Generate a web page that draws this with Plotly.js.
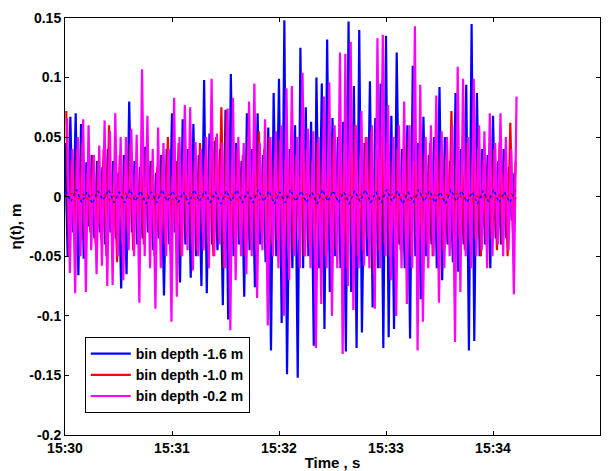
<!DOCTYPE html>
<html><head><meta charset="utf-8">
<script src="https://cdn.plot.ly/plotly-3.0.1.min.js"></script>
<style>body{margin:0;background:#fff}#chart{width:612px;height:471px}</style>
</head><body><div id="chart"></div>
<script>
// Series names
const seriesNames = ["bin depth -1.6 m", "bin depth -1.0 m", "bin depth -0.2 m"];
// Surface elevation crests and troughs (m), one wave every 3 s from 15:30:00
const blueCrests = [0.045,0.067,0.07,0.061,0.029,0.035,0.03,0.025,0.04,0.03,0.02,0.035,0.08,0.03,0.025,0.042,0.03,0.02,0.035,0.04,0.07,0.03,0.065,0.04,0.061,0.035,0.098,0.053,0.047,0.04,0.073,0.103,0.045,0.03,0.07,0.04,0.07,0.035,0.058,0.087,0.099,0.148,0.04,0.06,0.125,0.075,0.063,0.1,0.095,0.132,0.066,0.05,0.063,0.147,0.093,0.14,0.045,0.097,0.066,0.095,0.135,0.068,0.121,0.04,0.06,0.11,0.045,0.067,0.035,0.05,0.092,0.05,0.03,0.087,0.04,0.094,0.145,0.087,0.04,0.035,0.068,0.03,0.04,0.025,0.02];
const blueTroughs = [-0.05,-0.03,-0.066,-0.052,-0.025,-0.035,-0.03,-0.04,-0.03,-0.035,-0.077,-0.065,-0.03,-0.04,-0.035,-0.03,-0.045,-0.035,-0.083,-0.04,-0.03,-0.072,-0.04,-0.068,-0.05,-0.075,-0.081,-0.04,-0.045,-0.091,-0.103,-0.05,-0.04,-0.084,-0.045,-0.076,-0.04,-0.055,-0.129,-0.05,-0.106,-0.149,-0.06,-0.152,-0.06,-0.05,-0.125,-0.06,-0.111,-0.08,-0.05,-0.06,-0.13,-0.08,-0.127,-0.114,-0.05,-0.093,-0.06,-0.127,-0.118,-0.111,-0.04,-0.06,-0.119,-0.05,-0.086,-0.05,-0.04,-0.06,-0.07,-0.04,-0.055,-0.063,-0.04,-0.129,-0.121,-0.05,-0.04,-0.06,-0.035,-0.04,-0.035,-0.02];
const redCrests = [0.072,0.03,0.04,0.045,0.02,0.035,0.03,0.04,0.06,0.025,0.035,0.03,0.045,0.02,0.035,0.04,0.03,0.025,0.035,0.05,0.03,0.045,0.035,0.04,0.03,0.045,0.035,0.04,0.05,0.075,0.073,0.03,0.04,0.035,0.05,0.03,0.055,0.04,0.05,0.035,0.048,0.03,0.04,0.035,0.05,0.04,0.03,0.045,0.04,0.035,0.05,0.03,0.045,0.04,0.06,0.035,0.05,0.055,0.04,0.058,0.045,0.03,0.04,0.035,0.05,0.03,0.04,0.035,0.045,0.03,0.04,0.035,0.072,0.04,0.03,0.045,0.035,0.04,0.03,0.035,0.04,0.045,0.03,0.062,0.03];
const redTroughs = [-0.05,-0.035,-0.03,-0.045,-0.03,-0.04,-0.035,-0.05,-0.03,-0.055,-0.04,-0.03,-0.045,-0.035,-0.04,-0.03,-0.05,-0.035,-0.04,-0.045,-0.03,-0.05,-0.035,-0.04,-0.045,-0.03,-0.04,-0.05,-0.035,-0.06,-0.045,-0.04,-0.035,-0.05,-0.04,-0.045,-0.03,-0.05,-0.04,-0.035,-0.055,-0.04,-0.045,-0.035,-0.05,-0.04,-0.045,-0.035,-0.05,-0.04,-0.045,-0.035,-0.06,-0.04,-0.05,-0.045,-0.035,-0.065,-0.045,-0.04,-0.05,-0.035,-0.045,-0.04,-0.05,-0.035,-0.045,-0.04,-0.05,-0.035,-0.045,-0.04,-0.05,-0.035,-0.045,-0.04,-0.035,-0.05,-0.04,-0.035,-0.045,-0.04,-0.05,-0.03];
const magentaCrests = [0.066,0.04,0.05,0.065,0.06,0.035,0.043,0.064,0.055,0.07,0.05,0.05,0.057,0.052,0.107,0.068,0.04,0.058,0.045,0.04,0.083,0.05,0.077,0.075,0.046,0.04,0.05,0.099,0.053,0.045,0.074,0.083,0.05,0.045,0.08,0.095,0.045,0.065,0.05,0.055,0.06,0.091,0.093,0.05,0.104,0.057,0.055,0.05,0.084,0.096,0.06,0.121,0.12,0.13,0.06,0.072,0.05,0.06,0.133,0.136,0.077,0.05,0.06,0.08,0.06,0.143,0.094,0.05,0.06,0.085,0.055,0.05,0.06,0.109,0.099,0.05,0.099,0.06,0.055,0.07,0.045,0.07,0.05,0.04,0.084];
const magentaTroughs = [-0.064,-0.081,-0.05,-0.08,-0.045,-0.065,-0.058,-0.075,-0.074,-0.05,-0.07,-0.045,-0.05,-0.089,-0.05,-0.06,-0.094,-0.06,-0.05,-0.105,-0.084,-0.05,-0.045,-0.062,-0.05,-0.045,-0.06,-0.05,-0.04,-0.06,-0.112,-0.07,-0.05,-0.065,-0.05,-0.085,-0.045,-0.108,-0.05,-0.06,-0.1,-0.07,-0.05,-0.06,-0.05,-0.06,-0.127,-0.09,-0.06,-0.1,-0.06,-0.132,-0.075,-0.095,-0.06,-0.058,-0.06,-0.094,-0.06,-0.05,-0.07,-0.1,-0.06,-0.09,-0.06,-0.129,-0.105,-0.06,-0.05,-0.089,-0.06,-0.05,-0.122,-0.08,-0.05,-0.06,-0.05,-0.045,-0.06,-0.05,-0.04,-0.05,-0.045,-0.082];
// Small near-zero (dotted) series, one value every 3 s
const blueDot = [0.005,-0.004,0.006,-0.005,0.004,-0.006,0.005,-0.003,0.006,-0.005,0.004,-0.005,0.006,-0.004,0.005,-0.006,0.004,-0.005,0.006,-0.004,0.005,-0.005,0.004,-0.006,0.006,-0.004,0.005,-0.005,0.004,-0.006,0.005,-0.004,0.006,-0.005,0.004,-0.005,0.006,-0.004,0.005,-0.006,0.004,-0.005,0.006,-0.004,0.005,-0.005,0.004,-0.006,0.006,-0.004,0.005,-0.005,0.004,-0.006,0.005,-0.004,0.006,-0.005,0.004,-0.005,0.006,-0.004,0.005,-0.006,0.004,-0.005,0.006,-0.004,0.005,-0.005,0.004,-0.006,0.006,-0.004,0.005,-0.005,0.004,-0.006,0.005,-0.004,0.006,-0.005,0.004,-0.005,0.005];
const redDot = [-0.002,0.003,-0.003,0.002,-0.002,0.003,-0.001,0.002,-0.003,0.002,-0.002,0.003,-0.002,0.001,-0.003,0.002,-0.002,0.003,-0.002,0.002,-0.003,0.001,-0.002,0.003,-0.002,0.002,-0.003,0.002,-0.001,0.003,-0.002,0.002,-0.003,0.002,-0.002,0.001,-0.003,0.002,-0.002,0.003,-0.002,0.002,-0.003,0.001,-0.002,0.003,-0.002,0.002,-0.003,0.002,-0.001,0.003,-0.002,0.002,-0.003,0.002,-0.002,0.001,-0.003,0.002,-0.002,0.003,-0.002,0.002,-0.003,0.001,-0.002,0.003,-0.002,0.002,-0.003,0.002,-0.001,0.003,-0.002,0.002,-0.003,0.002,-0.002,0.001,-0.003,0.002,-0.002,0.003,-0.002];
const magentaDot = [0.003,-0.004,0.004,-0.003,0.002,-0.004,0.003,-0.003,0.004,-0.002,0.003,-0.004,0.004,-0.003,0.002,-0.004,0.003,-0.003,0.004,-0.002,0.003,-0.004,0.004,-0.003,0.002,-0.004,0.003,-0.003,0.004,-0.002,0.003,-0.004,0.004,-0.003,0.002,-0.004,0.003,-0.003,0.004,-0.002,0.003,-0.004,0.004,-0.003,0.002,-0.004,0.003,-0.003,0.004,-0.002,0.003,-0.004,0.004,-0.003,0.002,-0.004,0.003,-0.003,0.004,-0.002,0.003,-0.004,0.004,-0.003,0.002,-0.004,0.003,-0.003,0.004,-0.002,0.003,-0.004,0.004,-0.003,0.003];
// Axis ticks
const xTickLabels = ["15:30","15:31","15:32","15:33","15:34","15:35"];
const yTickVals = [0.15,0.1,0.05,0,-0.05,-0.1,-0.15,-0.2];
const yTickText = ["0.15","0.1","0.05","0","-0.05","-0.1","-0.15","-0.2"];

const base = Date.UTC(2000,0,1,15,30,0);
const WAVE = 3; // s between crests
function build(cr, tr, off){
  const x=[], y=[];
  for(let k=0;k<cr.length;k++){
    x.push(base+(k*WAVE+off)*1000); y.push(cr[k]);
    if(k<tr.length){ x.push(base+(k*WAVE+WAVE/2+off)*1000); y.push(tr[k]); }
  }
  return {x,y};
}
function buildDot(v, off){
  return {x: v.map((_,i)=>base+(i*WAVE+off)*1000), y: v};
}
const b = build(blueCrests, blueTroughs, 0);
const r = build(redCrests, redTroughs, 0.7);
const m = build(magentaCrests, magentaTroughs, 1.2);
const bd = buildDot(blueDot, 0.4), rd = buildDot(redDot, 1.0), md = buildDot(magentaDot, 1.8);

const traces = [
  {x:b.x,y:b.y,mode:'lines',name:'<b>'+seriesNames[0]+'</b>',line:{color:'#0000ff',width:2.2}},
  {x:r.x,y:r.y,mode:'lines',name:'<b>'+seriesNames[1]+'</b>',line:{color:'#ff0000',width:2.2}},
  {x:m.x,y:m.y,mode:'lines',name:'<b>'+seriesNames[2]+'</b>',line:{color:'#ff00ff',width:2.2}},
  {x:rd.x,y:rd.y,mode:'lines',showlegend:false,line:{color:'#ff0000',width:1.5,dash:'dot'}},
  {x:md.x,y:md.y,mode:'lines',showlegend:false,line:{color:'#ff00ff',width:1.5,dash:'dot'}},
  {x:bd.x,y:bd.y,mode:'lines',showlegend:false,line:{color:'#0000ff',width:1.5,dash:'dot'}}
];
const font = {family:'"Liberation Sans", Arial, sans-serif', color:'#000'};
const layout = {
  width:612, height:471,
  margin:{l:65,r:12,t:18,b:36},
  paper_bgcolor:'#fff', plot_bgcolor:'#fff',
  font:Object.assign({size:14},font),
  showlegend:true,
  legend:{x:0.037,y:0.235,xanchor:'left',yanchor:'top',bgcolor:'#fff',bordercolor:'#000',borderwidth:1,
    font:Object.assign({size:14},font),itemwidth:40,tracegroupgap:0},
  xaxis:{type:'date',range:[base, base+300000],
    tickvals:xTickLabels.map((_,i)=>base+i*60000), ticktext:xTickLabels.map(s=>'<b>'+s+'</b>'),
    ticks:'inside',ticklen:4,tickcolor:'#000',showline:true,linecolor:'#000',linewidth:1,mirror:'ticks',
    showgrid:false,zeroline:false,automargin:false,
    tickfont:Object.assign({size:14},font),
    title:{text:'<b>Time , s</b>',font:Object.assign({size:15},font),standoff:2}},
  yaxis:{range:[-0.2,0.15],tickvals:yTickVals,ticktext:yTickText.map(s=>'<b>'+s+'</b>'),
    ticks:'inside',ticklen:4,tickcolor:'#000',showline:true,linecolor:'#000',linewidth:1,mirror:'ticks',
    showgrid:false,zeroline:false,automargin:false,
    tickfont:Object.assign({size:14},font),
    title:{text:'<b>η(t), m</b>',font:Object.assign({size:15},font),standoff:4}}
};
Plotly.newPlot('chart',traces,layout,{displayModeBar:false,staticPlot:true});
</script></body></html>
